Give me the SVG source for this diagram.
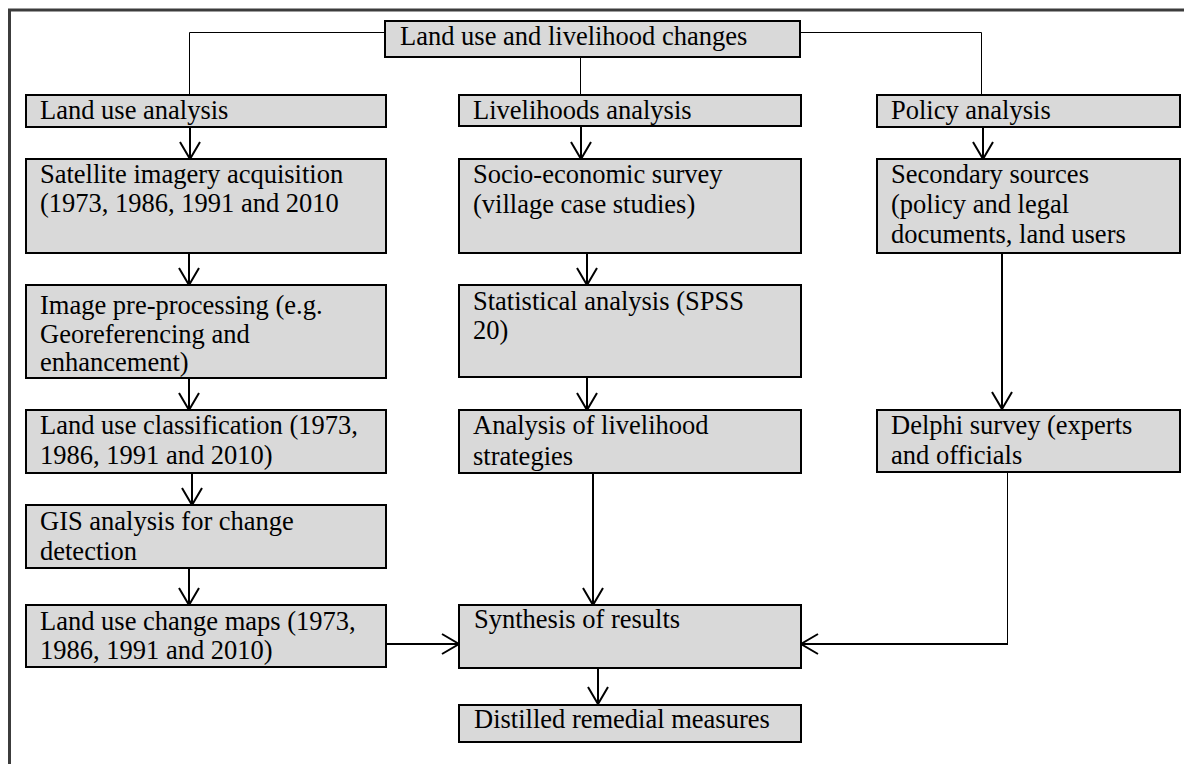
<svg xmlns="http://www.w3.org/2000/svg" width="1184" height="764" viewBox="0 0 1184 764">
<style>
.box{fill:#d9d9d9;stroke:#000;stroke-width:2}
.t{font-family:"Liberation Serif","Times New Roman",serif;font-size:26.5px;fill:#000}
.thin{fill:none;stroke:#000;stroke-width:1}
.arr{fill:none;stroke:#000;stroke-width:2;marker-end:url(#ah)}
</style>
<defs>
<marker id="ah" viewBox="0 0 22 24" refX="19" refY="12" markerWidth="22" markerHeight="24" markerUnits="userSpaceOnUse" orient="auto">
<path d="M2,2 L19,12 L2,22" fill="none" stroke="#000" stroke-width="2"/>
</marker>
</defs>
<rect width="1184" height="764" fill="#fff"/>
<path d="M9.5,764 V10 H1184" fill="none" stroke="#3c3c3c" stroke-width="3"/>

<g id="connectors">
<path class="thin" d="M385,32.5 H189.5 V95"/>
<path class="thin" d="M800,32.5 H981.5 V95"/>
<path class="thin" d="M580.5,57 V95"/>
<path class="arr" d="M190,127 V159"/>
<path class="arr" d="M581,126 V159"/>
<path class="arr" d="M983,127 V159"/>
<path class="arr" d="M189,253 V285"/>
<path class="arr" d="M587,253 V285"/>
<path class="arr" d="M1002,253 V409"/>
<path class="arr" d="M189,378 V410"/>
<path class="arr" d="M587,377 V410"/>
<path class="arr" d="M192,473 V505"/>
<path class="arr" d="M189,568 V605"/>
<path class="arr" d="M593,473 V605"/>
<path class="arr" d="M386,644 H459"/>
<path class="thin" d="M1007.5,473 V644"/>
<path class="arr" d="M1008,644 H801"/>
<path class="arr" d="M598,668 V704"/>
</g>

<g id="root"><rect class="box" x="385" y="21" width="415" height="36"/><text class="t" x="400" y="45">Land use and livelihood changes</text></g>

<g id="land-use-analysis"><rect class="box" x="26" y="95" width="360" height="32"/><text class="t" x="40" y="119">Land use analysis</text></g>
<g id="livelihoods-analysis"><rect class="box" x="459" y="95" width="342" height="31"/><text class="t" x="473" y="119">Livelihoods analysis</text></g>
<g id="policy-analysis"><rect class="box" x="877" y="95" width="303" height="32"/><text class="t" x="891" y="119">Policy analysis</text></g>

<g id="satellite"><rect class="box" x="26" y="159" width="360" height="94"/><text class="t" x="40" y="183">Satellite imagery acquisition</text><text class="t" x="40" y="212">(1973, 1986, 1991 and 2010</text></g>
<g id="socio"><rect class="box" x="459" y="159" width="342" height="94"/><text class="t" x="473" y="183">Socio-economic survey</text><text class="t" x="473" y="213">(village case studies)</text></g>
<g id="secondary"><rect class="box" x="877" y="159" width="303" height="94"/><text class="t" x="891" y="183">Secondary sources</text><text class="t" x="891" y="213">(policy and legal</text><text class="t" x="891" y="243">documents, land users</text></g>

<g id="preprocessing"><rect class="box" x="26" y="285" width="360" height="93"/><text class="t" x="40" y="314">Image pre-processing (e.g.</text><text class="t" x="40" y="343">Georeferencing and</text><text class="t" x="40" y="371">enhancement)</text></g>
<g id="statistical"><rect class="box" x="459" y="285" width="342" height="92"/><text class="t" x="473" y="310">Statistical analysis (SPSS</text><text class="t" x="473" y="339">20)</text></g>

<g id="classification"><rect class="box" x="26" y="410" width="360" height="63"/><text class="t" x="40" y="434">Land use classification (1973,</text><text class="t" x="40" y="464">1986, 1991 and 2010)</text></g>
<g id="strategies"><rect class="box" x="459" y="410" width="342" height="63"/><text class="t" x="473" y="434">Analysis of livelihood</text><text class="t" x="473" y="465">strategies</text></g>
<g id="delphi"><rect class="box" x="877" y="410" width="303" height="62"/><text class="t" x="891" y="434">Delphi survey (experts</text><text class="t" x="891" y="464">and officials</text></g>

<g id="gis"><rect class="box" x="26" y="505" width="360" height="63"/><text class="t" x="40" y="530">GIS analysis for change</text><text class="t" x="40" y="560">detection</text></g>

<g id="maps"><rect class="box" x="26" y="605" width="360" height="62"/><text class="t" x="40" y="630">Land use change maps (1973,</text><text class="t" x="40" y="659">1986, 1991 and 2010)</text></g>
<g id="synthesis"><rect class="box" x="459" y="605" width="342" height="63"/><text class="t" x="474" y="628">Synthesis of results</text></g>
<g id="distilled"><rect class="box" x="459" y="705" width="342" height="37"/><text class="t" x="474" y="728">Distilled remedial measures</text></g>
</svg>
